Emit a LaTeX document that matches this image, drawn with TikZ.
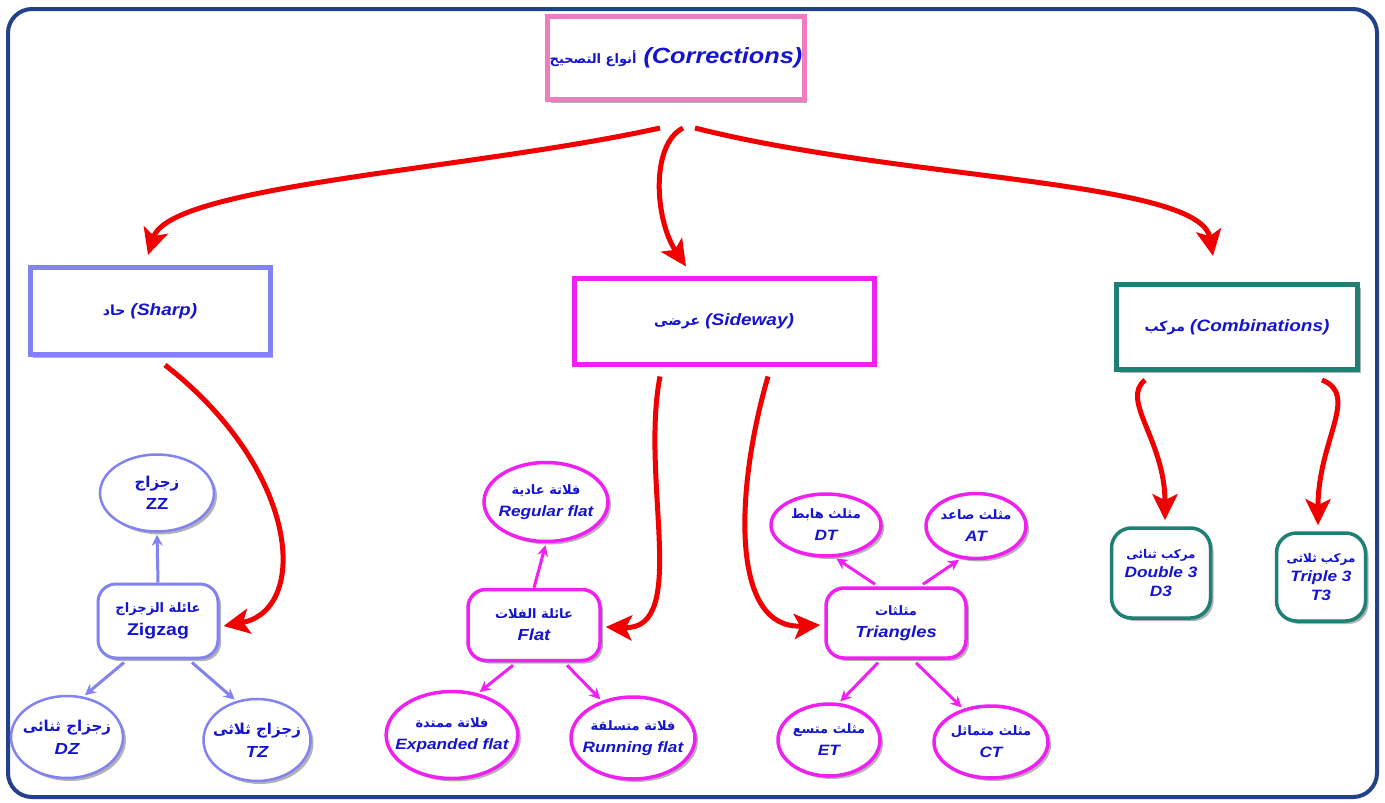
\documentclass[tikz,border=0pt]{standalone}
\usepackage{fontspec}
\setmainfont{Liberation Sans}[FakeStretch=1.15]
\newfontfamily\arfont[Script=Arabic]{DejaVu Sans}
\TeXXeTstate=1
\usetikzlibrary{shapes.geometric,arrows.meta,shadows}
\definecolor{navyc}{HTML}{23408A}
\definecolor{pinkc}{HTML}{F07CC0}
\definecolor{peric}{HTML}{8282F0}
\definecolor{magc}{HTML}{F020F0}
\definecolor{tealc}{HTML}{1E7F74}
\definecolor{redc}{HTML}{F00000}
\definecolor{tblue}{HTML}{1414D0}
\newcommand\AR[2][13]{{\arfont\upshape\bfseries\fontsize{#1}{#1}\selectfont\beginR #2\endR}}
\begin{document}
\begin{tikzpicture}[x=1pt,y=-1pt,
  shad/.style={drop shadow={shadow xshift=3pt,shadow yshift=-3pt,opacity=.3,fill=black}},
  bigbox/.style={draw, rectangle, line width=5pt, fill=white, shad, text=tblue, inner sep=2pt,
     font=\fontsize{16.5}{20}\selectfont\bfseries\itshape},
  famnode/.style={draw, rectangle, rounded corners=18pt, fill=white, shad, text=tblue, align=center, inner sep=1pt,
     font=\fontsize{16}{22}\selectfont\bfseries\itshape},
  leaf/.style={draw, ellipse, fill=white, shad, text=tblue, align=center, inner xsep=-10pt, inner ysep=-4pt,
     font=\fontsize{15}{22}\selectfont\bfseries\itshape},
  redarrow/.style={draw=redc, line width=5pt, -{Stealth[length=26pt,width=25pt,inset=6pt]}},
  thinarrow/.style={line width=3pt, -{Stealth[length=11pt,width=11pt]}, shorten >=2pt},
]
\useasboundingbox (0,0) rectangle (1385,803);
\fill[white] (0,0) rectangle (1385,803);
\draw[navyc, line width=4pt, rounded corners=24pt] (8,9) rectangle (1377,797);

% main boxes
\node[bigbox, draw=pinkc, minimum width=255pt, minimum height=83pt,
      font=\fontsize{22}{26}\selectfont\bfseries\itshape] (corr) at (676,58)
      {\AR[13]{أنواع التصحيح} (Corrections)};
\node[bigbox, draw=peric, minimum width=240pt, minimum height=87pt] (sharp) at (150,311)
      {\AR[14]{حاد} (Sharp)};
\node[bigbox, draw=magc, minimum width=300pt, minimum height=86pt] (side) at (724,321)
      {\AR[14]{عرضى} (Sideway)};
\node[bigbox, draw=tealc, minimum width=241pt, minimum height=85pt] (comb) at (1237,327)
      {\AR[14]{مركب} (Combinations)};

% zigzag family
\node[famnode, draw=peric, line width=3pt, minimum width=120pt, minimum height=74pt,
      font=\fontsize{17}{23}\selectfont\bfseries] (zig) at (158,621)
      {\AR[13]{عائلة الزجزاج}\\Zigzag};
\node[leaf, draw=peric, line width=2.5pt, minimum width=114pt, minimum height=77pt,
      font=\fontsize{16}{22}\selectfont\bfseries] (zz) at (157,493)
      {\AR[15]{زجزاج}\\ZZ};
\node[leaf, draw=peric, line width=2.5pt, minimum width=112pt, minimum height=82pt,
      font=\fontsize{16}{23}\selectfont\bfseries\itshape] (dz) at (67,737)
      {\AR[15]{زجزاج ثنائى}\\DZ};
\node[leaf, draw=peric, line width=2.5pt, minimum width=107pt, minimum height=82pt,
      font=\fontsize{16}{23}\selectfont\bfseries\itshape] (tz) at (257,740)
      {\AR[15]{زجزاج ثلاثى}\\TZ};

% flat family
\node[famnode, draw=magc, line width=3.5pt, minimum width=132pt, minimum height=71pt] (flat) at (534,625)
      {\AR{عائلة الفلات}\\Flat};
\node[leaf, draw=magc, line width=3.5pt, minimum width=124pt, minimum height=79pt] (reg) at (546,502)
      {\AR{فلاتة عادية}\\Regular flat};
\node[leaf, draw=magc, line width=3.5pt, minimum width=118pt, minimum height=87pt] (exp) at (452,735)
      {\AR{فلاتة ممتدة}\\Expanded flat};
\node[leaf, draw=magc, line width=3.5pt, minimum width=124pt, minimum height=82pt] (run) at (633,738)
      {\AR{فلاتة متسلقة}\\Running flat};

% triangles family
\node[famnode, draw=magc, line width=3.5pt, minimum width=140pt, minimum height=70pt] (tri) at (896,623)
      {\AR{مثلثات}\\Triangles};
\node[leaf, draw=magc, line width=3.5pt, minimum width=110pt, minimum height=62pt] (dt) at (826,525)
      {\AR{مثلث هابط}\\DT};
\node[leaf, draw=magc, line width=3.5pt, minimum width=100pt, minimum height=65pt] (at) at (976,526)
      {\AR{مثلث صاعد}\\AT};
\node[leaf, draw=magc, line width=3.5pt, minimum width=102pt, minimum height=72pt] (et) at (829,740)
      {\AR{مثلث متسع}\\ET};
\node[leaf, draw=magc, line width=3.5pt, minimum width=114pt, minimum height=72pt] (ct) at (991,742)
      {\AR{مثلث متماثل}\\CT};

% combinations
\node[famnode, draw=tealc, line width=3.5pt, rounded corners=20pt, minimum width=99pt, minimum height=90pt,
      font=\fontsize{15}{19}\selectfont\bfseries\itshape] (d3) at (1161,573)
      {\AR[12]{مركب ثنائى}\\Double 3\\D3};
\node[famnode, draw=tealc, line width=3.5pt, rounded corners=20pt, minimum width=89pt, minimum height=88pt,
      font=\fontsize{15}{19}\selectfont\bfseries\itshape] (t3) at (1321,577)
      {\AR[12]{مركب ثلاثى}\\Triple 3\\T3};

% red arrows
\draw[redarrow] ([xshift=-16pt,yshift=-26pt]corr.south) .. controls (470,170) and (170,185) .. ([xshift=-2pt,yshift=10pt]sharp.north);
\draw[redarrow] ([xshift=7pt,yshift=-26pt]corr.south) .. controls (650,145) and (655,220) .. ([xshift=-38pt,yshift=9pt]side.north);
\draw[redarrow] ([xshift=19pt,yshift=-26pt]corr.south) .. controls (900,180) and (1200,180) .. ([xshift=-24pt,yshift=26pt]comb.north);
\draw[redarrow] ([xshift=15pt,yshift=-8pt]sharp.south) .. controls (300,470) and (310,610) .. ([xshift=4pt,yshift=-5pt]zig.east);
\draw[redarrow] ([xshift=-64pt,yshift=-10pt]side.south) .. controls (640,480) and (690,630) .. ([xshift=4pt,yshift=-2pt]flat.east);
\draw[redarrow] ([xshift=44pt,yshift=-10pt]side.south) .. controls (735,490) and (730,630) .. ([xshift=-4pt,yshift=-2pt]tri.west);
\draw[redarrow] ([xshift=-92pt,yshift=-8pt]comb.south) .. controls (1120,400) and (1165,440) .. ([xshift=4pt,yshift=6pt]d3.north);
\draw[redarrow] ([xshift=85pt,yshift=-8pt]comb.south) .. controls (1360,395) and (1318,440) .. ([xshift=-3pt,yshift=6pt]t3.north);

% thin arrows
\draw[thinarrow, draw=peric] (zig.north) -- (zz.south);
\draw[thinarrow, draw=peric] ([xshift=-34pt,yshift=-3pt]zig.south) -- (dz.68);
\draw[thinarrow, draw=peric] ([xshift=34pt,yshift=-3pt]zig.south) -- (tz.118);
\draw[thinarrow, draw=magc] (flat.north) -- (reg.south);
\draw[thinarrow, draw=magc] ([xshift=-21pt,yshift=-3pt]flat.south) -- (exp.58);
\draw[thinarrow, draw=magc] ([xshift=33pt,yshift=-3pt]flat.south) -- (run.130);
\draw[thinarrow, draw=magc] ([xshift=-21pt,yshift=2pt]tri.north) -- (dt.-75);
\draw[thinarrow, draw=magc] ([xshift=27pt,yshift=2pt]tri.north) -- (at.-115);
\draw[thinarrow, draw=magc] ([xshift=-18pt,yshift=-3pt]tri.south) -- (et.75);
\draw[thinarrow, draw=magc] ([xshift=20pt,yshift=-3pt]tri.south) -- (ct.130);
\end{tikzpicture}
\end{document}
